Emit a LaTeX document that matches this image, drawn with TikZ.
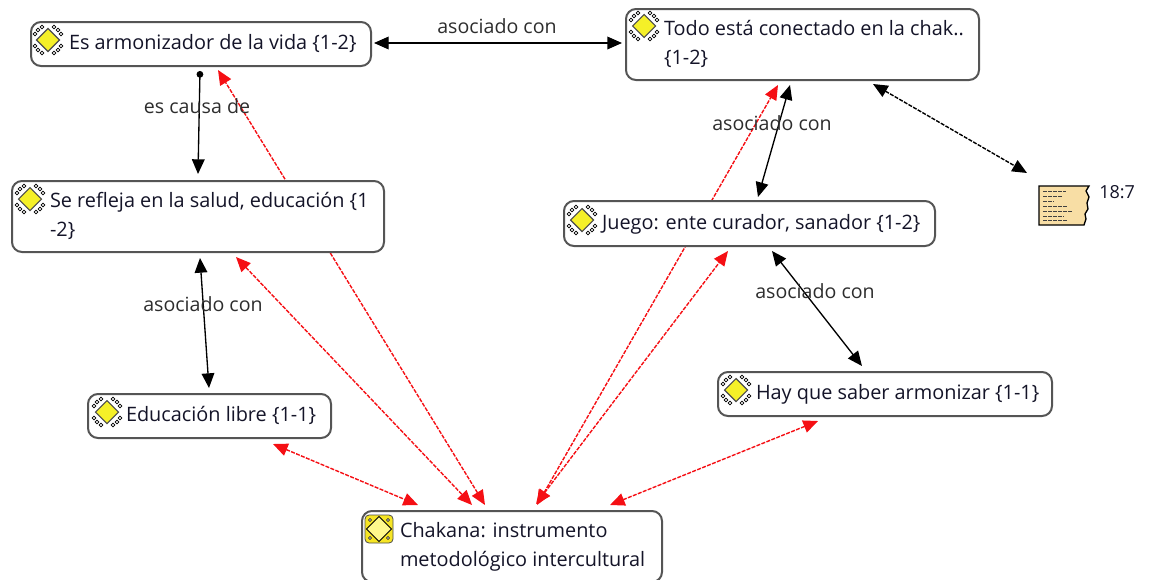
\documentclass[tikz,border=0pt]{standalone}
\usepackage{fontspec}
\setmainfont{Open Sans}
\usetikzlibrary{arrows.meta,calc,backgrounds}
\definecolor{bordergray}{RGB}{85,85,85}
\definecolor{txt}{RGB}{20,20,40}
\definecolor{labtxt}{RGB}{45,45,45}
\definecolor{redline}{RGB}{245,15,20}
\definecolor{icony}{RGB}{245,240,40}
\definecolor{notefill}{RGB}{248,222,165}
\newcommand{\boxtxt}[2]{\makebox[0.75\dimexpr #1pt\relax][l]{\hspace{28.5pt}\raisebox{3.2pt}{\begin{tabular}[c]{@{}l@{}}#2\end{tabular}}}}
\tikzset{
  x=0.75pt,y=-0.75pt,
  cbox/.style={draw=bordergray,fill=white,line width=1.5pt,rounded corners=7.5pt,inner sep=0pt,anchor=north west,text=txt,
     font=\fontsize{14.9}{21.75}\selectfont},
  lab/.style={text=labtxt,inner sep=0pt,font=\fontsize{14.7}{15}\selectfont},
  blk/.style={draw=black,line width=1pt,{Triangle[length=11pt,width=9.5pt]}-{Triangle[length=11pt,width=9.5pt]}},
  rd/.style={draw=redline,line width=1.05pt,dash pattern=on 3pt off 1pt,{Triangle[length=11pt,width=9.5pt]}-{Triangle[length=11pt,width=9.5pt]}},
  dsh/.style={draw=black,line width=1.05pt,dash pattern=on 3pt off 1pt,{Triangle[length=11pt,width=9.5pt]}-{Triangle[length=11pt,width=9.5pt]}},
  cause/.style={draw=black,line width=1pt,{Circle[length=5pt]}-{Triangle[length=11pt,width=9.5pt]}},
  icon/.pic={
    \foreach \a/\b in {-10/-10,-6/-13,-13/-6,10/-10,6/-13,13/-6,-10/10,-6/13,-13/6,10/10,6/13,13/6}
      \draw[black,line width=0.55pt,fill=white] (\a,\b) circle[radius=1.8];
    \draw[draw=black!70,fill=icony,line width=0.8pt] (0,-11.5) -- (11.5,0) -- (0,11.5) -- (-11.5,0) -- cycle;
  },
  iconc/.pic={
    \draw[draw=black!70,fill=icony!90!orange,line width=0.6pt,rounded corners=3pt] (-14,-14) rectangle (14,14);
    \foreach \a/\b in {-9/-9,9/-9,-9/9,9/9}
      \draw[black,line width=0.4pt,fill=white] (\a,\b) circle[radius=1.6];
    \draw[draw=black,fill=yellow!45,line width=0.7pt] (0,-12.5) -- (12.5,0) -- (0,12.5) -- (-12.5,0) -- cycle;
  },
}
\begin{document}
\begin{tikzpicture}
\useasboundingbox (0,0) rectangle (1149,579);
\clip (0,0) rectangle (1149,579);
\node[cbox,minimum width=255pt,minimum height=33pt] (armo) at (30,21) {\boxtxt{340}{Es armonizador de la vida \{1-2\}}};
\node[cbox,minimum width=264.75pt,minimum height=53.25pt] (todo) at (625,8) {\boxtxt{353}{Todo está conectado en la chak..\\\{1-2\}}};
\node[cbox,minimum width=279pt,minimum height=53.25pt] (sere) at (11,180) {\boxtxt{372}{Se refleja en la salud, educación \{1\\-2\}}};
\node[cbox,minimum width=278.25pt,minimum height=33.75pt] (juego) at (563,200) {\boxtxt{371}{Juego: ente curador, sanador \{1-2\}}};
\node[cbox,minimum width=182.25pt,minimum height=33pt] (educ) at (87,393) {\boxtxt{243}{Educación libre \{1-1\}}};
\node[cbox,minimum width=250.5pt,minimum height=33pt] (hay) at (717,371) {\boxtxt{334}{Hay que saber armonizar \{1-1\}}};
\node[cbox,minimum width=225pt,minimum height=53.25pt] (chak) at (361,510) {\boxtxt{300}{Chakana: instrumento\\metodológico intercultural}};
\coordinate (note) at (1039,186);

\begin{scope}[on background layer]
\draw[blk] ($(armo.north west)+(344,22)$) -- ($(todo.north west)+(-3,35)$);
\draw[cause] ($(armo.north west)+(170,50)$) -- ($(sere.north west)+(187,-6)$);
\draw[rd] ($(chak.north west)+(124,-5)$) -- ($(armo.north west)+(188,49)$);
\draw[rd] ($(sere.north west)+(225,77)$) -- ($(chak.north west)+(111,-5)$);
\draw[blk] ($(sere.north west)+(189,78)$) -- ($(educ.north west)+(122,-5)$);
\draw[rd] ($(educ.north west)+(186,51)$) -- ($(chak.north west)+(57,-5)$);
\draw[rd] ($(chak.north west)+(176,-5)$) -- ($(todo.north west)+(153,77)$);
\draw[rd] ($(chak.north west)+(175,-6)$) -- ($(juego.north west)+(165,51)$);
\draw[blk] ($(todo.north west)+(165,77)$) -- ($(juego.north west)+(195,-3)$);
\draw[blk] ($(juego.north west)+(209,51)$) -- ($(hay.north west)+(145,-5)$);
\draw[rd] ($(hay.north west)+(101,50)$) -- ($(chak.north west)+(249,-5)$);
\draw[dsh] ($(todo.north west)+(248,76)$) -- ($(note)+(-12,-13)$);
\end{scope}

\pic at ($(armo.north west)+(18,19)$) {icon};
\pic at ($(todo.north west)+(19,18)$) {icon};
\pic at ($(sere.north west)+(19,19)$) {icon};
\pic at ($(juego.north west)+(19,20)$) {icon};
\pic at ($(educ.north west)+(20,19)$) {icon};
\pic at ($(hay.north west)+(19,19)$) {icon};
\pic at ($(chak.north west)+(18,19)$) {iconc};

\node[lab] (l1) at (497,26) {asociado con};
\node[lab] (l2) at (197,106) {es causa de};
\node[lab] (l3) at (203,304) {asociado con};
\node[lab] (l4) at (772,123) {asociado con};
\node[lab] (l5) at (815,291) {asociado con};

\draw[draw=black,fill=notefill,line width=1pt]
  (note) -- ++(50,0) -- ++(-3,5) -- ++(3,6) -- ++(-2,6) -- ++(1,6) -- ++(-3,5) -- ++(1,5) -- ++(-2,6) -- (1039,225) -- cycle;
\foreach \yy/\xa/\xb in {191/1043/1066,196/1043/1062,201/1043/1054,206/1043/1068,211/1043/1072,216/1043/1064,220/1043/1068}
  \draw[black!75,line width=0.7pt,dash pattern=on 3pt off 0.8pt] (\xa,\yy) -- (\xb,\yy);
\node[lab,anchor=west,text=txt,font=\fontsize{13.5}{15}\selectfont] (n187) at (1099,192) {18:7};
\end{tikzpicture}
\end{document}
